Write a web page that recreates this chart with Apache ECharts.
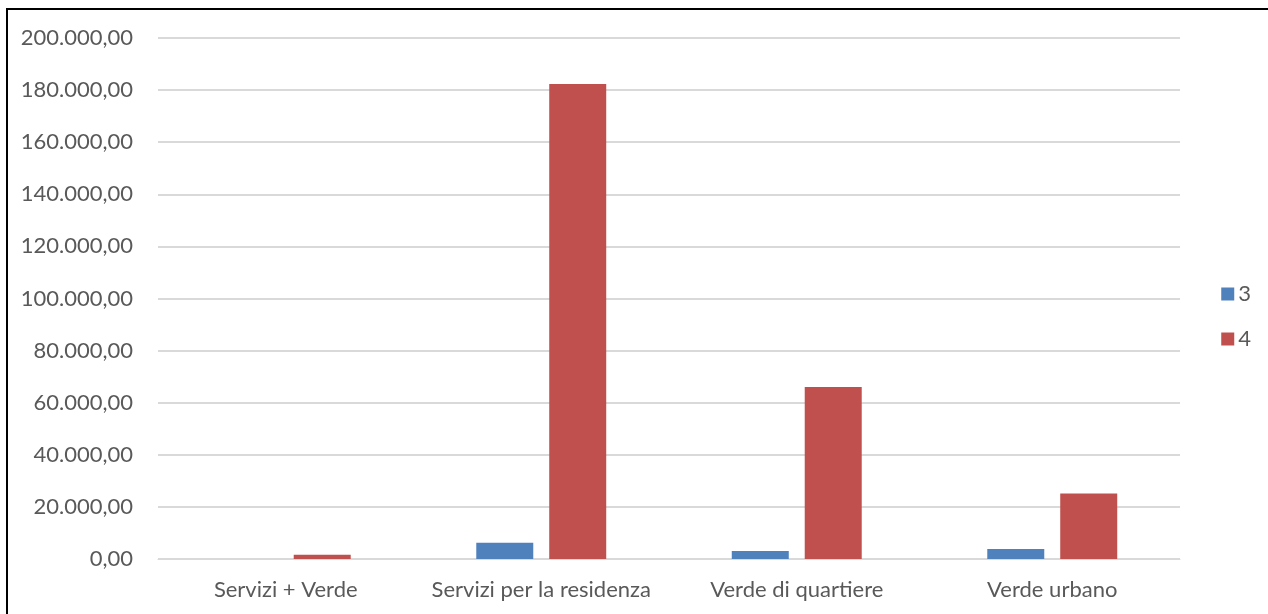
<!DOCTYPE html>
<html>
<head>
<meta charset="utf-8">
<script src="https://cdn.jsdelivr.net/npm/echarts@6/dist/echarts.min.js"></script>
<style>
  html, body { margin: 0; padding: 0; background: #fff; }
  #frame { position: absolute; left: 6px; top: 8px; width: 1280px; height: 620px; border: 2px solid #000; box-sizing: border-box; }
  #chart { position: absolute; left: 0; top: 0; width: 1268px; height: 614px; }
</style>
</head>
<body>
<div id="frame"></div>
<div id="chart"></div>
<script>
// Categories and series values
const categories = ['Servizi + Verde', 'Servizi per la residenza', 'Verde di quartiere', 'Verde urbano'];
const series3 = [0, 6200, 3100, 3800];
const series4 = [1600, 182300, 66000, 25100];
const seriesNames = ['3', '4'];

// Italian number format with two decimals: 200.000,00
function fmtIt(v) {
  const fixed = Math.abs(v).toFixed(2);
  const [intPart, dec] = fixed.split('.');
  const grouped = intPart.replace(/\B(?=(\d{3})+(?!\d))/g, '.');
  return (v < 0 ? '-' : '') + grouped + ',' + dec;
}

const FONT = 'Lato';
const TEXT = '#595959';
const SIZE = 22;

const chart = echarts.init(document.getElementById('chart'));
chart.setOption({
  animation: false,
  textStyle: { fontFamily: FONT },
  grid: { left: 158, right: 88, top: 38, bottom: 55, containLabel: false },
  legend: {
    orient: 'vertical',
    right: 12,
    top: 278,
    itemWidth: 13,
    itemHeight: 13,
    itemGap: 23,
    icon: 'rect',
    textStyle: { color: TEXT, fontSize: SIZE, fontFamily: FONT, padding: [0, 0, 0, -1] },
    data: seriesNames
  },
  xAxis: {
    type: 'category',
    data: categories,
    axisLine: { show: true, lineStyle: { color: '#D9D9D9', width: 1 } },
    axisTick: { show: false },
    axisLabel: { color: TEXT, fontSize: SIZE, fontFamily: FONT, margin: 20, interval: 0 }
  },
  yAxis: {
    type: 'value',
    min: 0,
    max: 200000,
    interval: 20000,
    axisLine: { show: false },
    axisTick: { show: false },
    splitLine: { lineStyle: { color: '#D9D9D9', width: 2 } },
    axisLabel: { color: TEXT, fontSize: SIZE, fontFamily: FONT, margin: 25, formatter: fmtIt }
  },
  series: [
    {
      name: seriesNames[0], type: 'bar', data: series3,
      barWidth: 57, barGap: '28%',
      itemStyle: { color: '#4F81BD' }
    },
    {
      name: seriesNames[1], type: 'bar', data: series4,
      barWidth: 57, barGap: '28%',
      itemStyle: { color: '#C0504D' }
    }
  ]
});
</script>
</body>
</html>
